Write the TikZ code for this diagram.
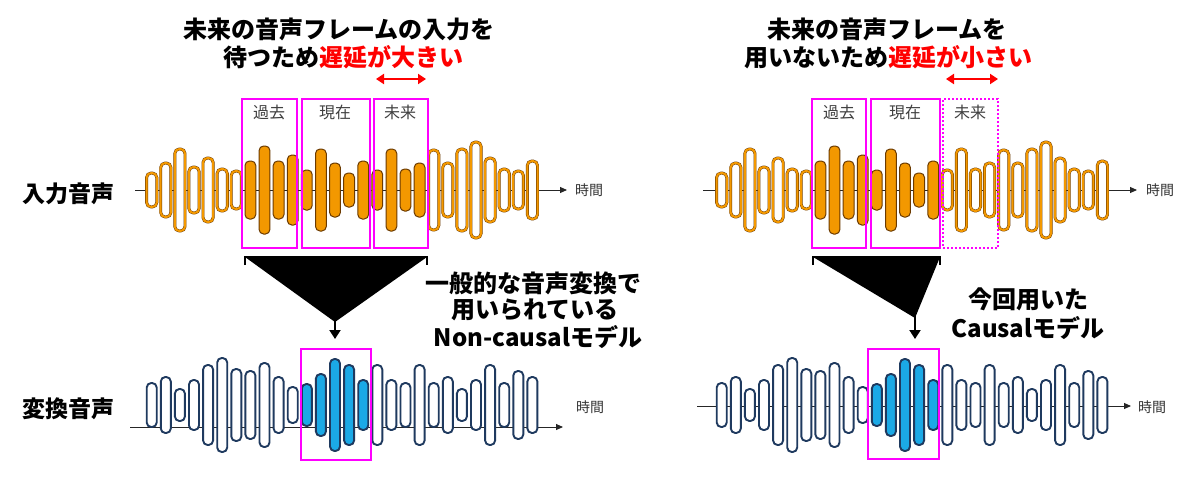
\documentclass[tikz,border=0pt]{standalone}
\usepackage{fontspec}
\setmainfont{Noto Sans CJK JP}
\usetikzlibrary{arrows.meta}
\definecolor{orng}{HTML}{F39800}
\definecolor{obrd}{HTML}{6B3A00}
\definecolor{bluef}{HTML}{1BA9E6}
\definecolor{navy}{HTML}{1F3A5F}
\definecolor{mag}{HTML}{FF00FF}
\definecolor{redt}{HTML}{FF0000}
\tikzset{
  obar/.style={rounded corners=4.5pt, fill=white, draw=obrd, double=orng, double distance=2pt, line width=0.45pt},
  ofill/.style={rounded corners=4.5pt, fill=orng, draw=obrd, line width=1pt},
  bbar/.style={rounded corners=4.5pt, fill=white, draw=navy, line width=1.9pt},
  bfill/.style={rounded corners=4.5pt, fill=bluef, draw=navy, line width=1.9pt},
  axisline/.style={draw=black!85, line width=0.9pt, -{Triangle[length=7pt,width=6pt]}},
  tlab/.style={font=\fontsize{14}{14}\selectfont, text=black!80, inner sep=0pt, anchor=west},
  pinkbox/.style={draw=mag, line width=2pt, inner sep=0pt},
  pinkdot/.style={draw=mag, line width=2pt, dotted, inner sep=0pt},
  boxlab/.style={font=\fontsize{16}{16}\selectfont, text=black!75, inner sep=0pt},
  title/.style={font=\bfseries\fontsize{24}{24}\selectfont, inner sep=0pt},
  sidelab/.style={font=\bfseries\fontsize{23}{23}\selectfont, inner sep=0pt},
  redarrow/.style={draw=redt, line width=2.5pt, {Triangle[length=8pt,width=10pt]}-{Triangle[length=8pt,width=10pt]}},
  downarrow/.style={draw=black, line width=2pt, -{Triangle[length=9pt,width=11pt]}},
  bracket/.style={draw=black, line width=1.8pt},
}
\begin{document}
\begin{tikzpicture}[x=1pt,y=-1pt]
\useasboundingbox (0,0) rectangle (1200,477);
\fill[white] (0,0) rectangle (1200,477);

% ---------- axes ----------
\coordinate (a1s) at (135,190); \coordinate (a1e) at (567,190);
\coordinate (a2s) at (703,190); \coordinate (a2e) at (1137,190);
\coordinate (a3s) at (130,427); \coordinate (a3e) at (563,427);
\coordinate (a4s) at (697,406); \coordinate (a4e) at (1131,406);
\draw[axisline] (a1s) -- (a1e);
\draw[axisline] (a2s) -- (a2e);
\draw[axisline] (a3s) -- (a3e);
\draw[axisline] (a4s) -- (a4e);
\node[tlab] (t1) at (575,190) {時間};
\node[tlab] (t2) at (1146,190) {時間};
\node[tlab] (t3) at (576,407) {時間};
\node[tlab] (t4) at (1138,407) {時間};

% ---------- top waveforms ----------
\foreach \h [count=\i from 0] in {17,27,41,23,32,21,19,29,44,29,35,20,41,27,17,29,20,41,21,27,40,27,41,48,32,21,19,29} {
  \pgfmathsetmacro\xx{151.7+14.1*\i}
  \pgfmathtruncatemacro\fa{(\i>=7)&&(\i<=19)}
  \pgfmathtruncatemacro\fb{(\i>=7)&&(\i<=15)}
  \ifnum\fa=1
    \path[ofill] (\xx-5.4,190-\h) rectangle (\xx+5.4,190+\h);
  \else
    \path[obar] (\xx-5.1,190-\h) rectangle (\xx+5.1,190+\h);
  \fi
  \ifnum\fb=1
    \path[ofill] (\xx+564.6,190-\h) rectangle (\xx+575.4,190+\h);
  \else
    \path[obar] (\xx+564.9,190-\h) rectangle (\xx+575.1,190+\h);
  \fi
}

% ---------- bottom waveforms ----------
\foreach \h [count=\i from 0] in {22,28,16,25,40,47,36,34,42,28,18,21,31,46,40,25,40,25,22,40,22,28,16,25,40,22,34,28} {
  \pgfmathsetmacro\xx{151.7+14.1*\i}
  \pgfmathtruncatemacro\fc{(\i>=11)&&(\i<=15)}
  \ifnum\fc=1
    \path[bfill] (\xx-5,405-\h) rectangle (\xx+5,405+\h);
    \path[bfill] (\xx+565,405-\h) rectangle (\xx+575,405+\h);
  \else
    \path[bbar] (\xx-5,405-\h) rectangle (\xx+5,405+\h);
    \path[bbar] (\xx+565,405-\h) rectangle (\xx+575,405+\h);
  \fi
}

% ---------- pink boxes ----------
\node[pinkbox, minimum width=55pt, minimum height=149pt] (pL1) at (269.5,173.5) {};
\node[pinkbox, minimum width=68pt, minimum height=149pt] (pL2) at (336,173.5) {};
\node[pinkbox, minimum width=54pt, minimum height=149pt] (pL3) at (401,173.5) {};
\node[pinkbox, minimum width=54pt, minimum height=149pt] (pR1) at (839,173.5) {};
\node[pinkbox, minimum width=69pt, minimum height=149pt] (pR2) at (905.5,173.5) {};
\node[pinkdot, minimum width=55pt, minimum height=149pt] (pR3) at (970.5,173.5) {};
\node[pinkbox, minimum width=70pt, minimum height=111pt] (pLb) at (336,404.5) {};
\node[pinkbox, minimum width=71pt, minimum height=110pt] (pRb) at (903.5,404) {};

\node[boxlab] (lL1) at (269,112) {過去};
\node[boxlab] (lL2) at (335,112) {現在};
\node[boxlab] (lL3) at (400,112) {未来};
\node[boxlab] (lR1) at (839,112) {過去};
\node[boxlab] (lR2) at (905,112) {現在};
\node[boxlab] (lR3) at (970,112) {未来};

% ---------- funnels ----------
\coordinate (bLl) at (245,257); \coordinate (bLr) at (427,257); \coordinate (apL) at (335,322);
\coordinate (bRl) at (813,257); \coordinate (bRr) at (940,257); \coordinate (apR) at (915,318);
\fill[black] (bLl) -- (bLr) -- (apL) -- cycle;
\fill[black] (bRl) -- (bRr) -- (apR) -- cycle;
\draw[bracket] ([yshift=-8pt]bLl) -- (bLl) -- (bLr) -- ([yshift=-8pt]bLr);
\draw[bracket] ([yshift=-8pt]bRl) -- (bRl) -- (bRr) -- ([yshift=-8pt]bRr);
\coordinate (tipL) at (335,339);
\coordinate (tipR) at (915,339);
\draw[downarrow] ([yshift=2pt]apL) -- (tipL);
\draw[downarrow] ([yshift=2pt]apR) -- (tipR);

% ---------- red arrows ----------
\coordinate (rL1) at (376,79); \coordinate (rL2) at (426,79);
\coordinate (rR1) at (946,79); \coordinate (rR2) at (998,79);
\draw[redarrow] (rL1) -- (rL2);
\draw[redarrow] (rR1) -- (rR2);

% ---------- texts ----------
\node[title] (tl1) at (339,29) {未来の音声フレームの入力を};
\node[title] (tl2) at (343,57) {待つため{\color{redt}遅延が大きい}};
\node[title] (tr1) at (887,29) {未来の音声フレームを};
\node[title] (tr2) at (888,57) {用いないため{\color{redt}遅延が小さい}};

\node[title] (ml1) at (533,283) {一般的な音声変換で};
\node[title] (ml2) at (535,310) {用いられている};
\node[title] (ml3) at (538,337) {Non-causalモデル};
\node[title] (mr1) at (1028,299) {今回用いた};
\node[title] (mr2) at (1028,328) {Causalモデル};

\node[sidelab] (s1) at (68,194) {入力音声};
\node[sidelab] (s2) at (68,409) {変換音声};
\end{tikzpicture}
\end{document}
